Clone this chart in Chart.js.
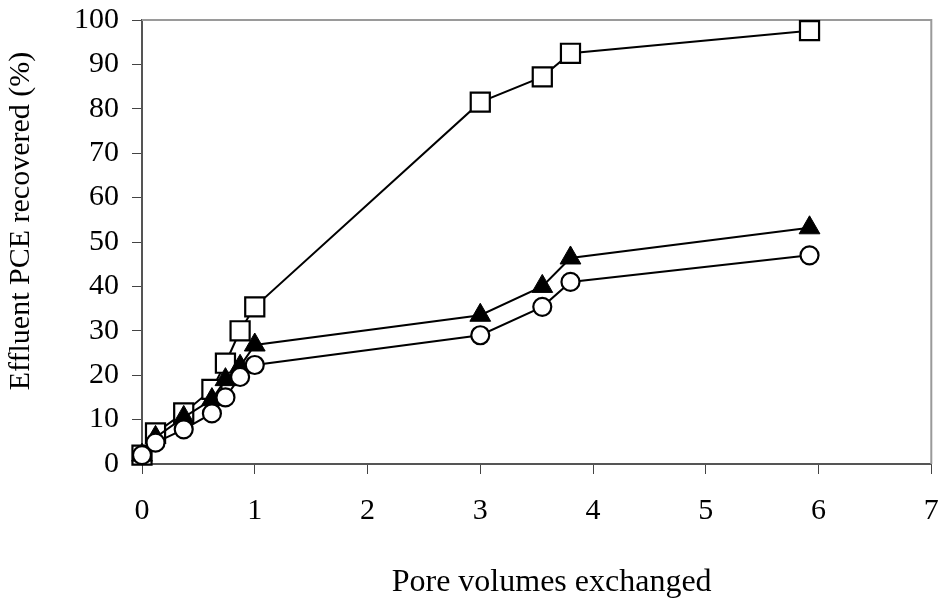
<!DOCTYPE html>
<html>
<head>
<meta charset="utf-8">
<script src="https://cdn.jsdelivr.net/npm/chart.js@4/dist/chart.umd.min.js"></script>
<style>
  html, body { margin: 0; padding: 0; background: #fff; }
  #wrap { width: 947px; height: 602px; position: relative; }
</style>
</head>
<body>
<div id="wrap"><canvas id="c"></canvas></div>
<script>
// Pore volumes exchanged at each sampling point
const poreVolumes = [0, 0.12, 0.37, 0.62, 0.74, 0.87, 1.0, 3.0, 3.55, 3.8, 5.92];
// Effluent PCE recovered (%) for the three runs
const squareSeries   = [2, 7, 11.5, 16.8, 22.7, 30, 35.4, 81.5, 87.2, 92.5, 97.6];
const triangleSeries = [2, 6, 10.5, 14.5, 19, 22, 26.8, 33.5, 40, 46.4, 53.2];
const circleSeries   = [2, 4.8, 7.8, 11.4, 15, 19.6, 22.3, 29, 35.4, 41, 47];
const xTicks = [0, 1, 2, 3, 4, 5, 6, 7];
const yTicks = [0, 10, 20, 30, 40, 50, 60, 70, 80, 90, 100];
const xTitle = 'Pore volumes exchanged';
const yTitle = 'Effluent PCE recovered (%)';

const pts = ys => poreVolumes.map((x, i) => ({ x: x, y: ys[i] }));
const FONT = '"Liberation Serif", "Times New Roman", serif';

// Light frame along the top and right of the plot area
const framePlugin = {
  id: 'frame',
  beforeDatasetsDraw(chart) {
    const { ctx, chartArea: a } = chart;
    ctx.save();
    ctx.strokeStyle = '#9a9a9a';
    ctx.lineWidth = 2;
    ctx.beginPath();
    ctx.moveTo(a.left, a.top);
    ctx.lineTo(a.right, a.top);
    ctx.lineTo(a.right, a.bottom);
    ctx.stroke();
    ctx.restore();
  }
};

// Axis titles, each placed a little off the plot centre
const axisTitlePlugin = {
  id: 'axisTitles',
  afterDraw(chart) {
    const { ctx, chartArea: a } = chart;
    ctx.save();
    ctx.fillStyle = '#000';
    ctx.textAlign = 'center';

    ctx.font = '32px ' + FONT;
    ctx.textBaseline = 'alphabetic';
    ctx.fillText(xTitle, (a.left + a.right) / 2 + 15, chart.height - 11);

    ctx.font = '30px ' + FONT;
    ctx.textBaseline = 'middle';
    ctx.translate(21, (a.top + a.bottom) / 2 - 21);
    ctx.rotate(-Math.PI / 2);
    ctx.fillText(yTitle, 0, 0);
    ctx.restore();
  }
};

const seriesStyle = (data, style, radius, fill, bw) => ({
  data: data,
  showLine: true,
  clip: false,
  borderColor: '#000',
  borderWidth: 2,
  pointStyle: style,
  pointRadius: radius,
  pointBorderWidth: bw,
  pointBackgroundColor: fill,
  pointBorderColor: '#000'
});

new Chart(document.getElementById('c'), {
  type: 'scatter',
  data: {
    datasets: [
      seriesStyle(pts(circleSeries), 'circle', 9, '#fff', 2.2),
      seriesStyle(pts(triangleSeries), 'triangle', 12, '#000', 1),
      seriesStyle(pts(squareSeries), 'rect', 13.5, '#fff', 2.2)
    ]
  },
  options: {
    responsive: true,
    maintainAspectRatio: false,
    animation: false,
    events: [],
    layout: { padding: { top: 20, right: 13, left: 0, bottom: 0 } },
    plugins: { legend: { display: false }, tooltip: { enabled: false } },
    scales: {
      x: {
        type: 'linear',
        min: 0,
        max: 7,
        afterFit(s) { s.height = 138; s.paddingLeft = 0; s.paddingRight = 0; },
        afterBuildTicks(s) { s.ticks = xTicks.map(v => ({ value: v })); },
        border: { display: true, color: '#555', width: 2 },
        grid: { drawOnChartArea: false, drawTicks: true, tickLength: 10, color: '#444', lineWidth: 1 },
        ticks: { color: '#000', padding: 19, font: { family: FONT, size: 30 }, maxRotation: 0 }
      },
      y: {
        type: 'linear',
        min: 0,
        max: 100,
        afterFit(s) { s.width = 142; s.paddingTop = 0; s.paddingBottom = 0; },
        afterBuildTicks(s) { s.ticks = yTicks.map(v => ({ value: v })); },
        border: { display: true, color: '#555', width: 2 },
        grid: { drawOnChartArea: false, drawTicks: true, tickLength: 10, color: '#444', lineWidth: 1 },
        ticks: { color: '#000', padding: 13, font: { family: FONT, size: 30 } }
      }
    }
  },
  plugins: [framePlugin, axisTitlePlugin]
});
</script>
</body>
</html>
